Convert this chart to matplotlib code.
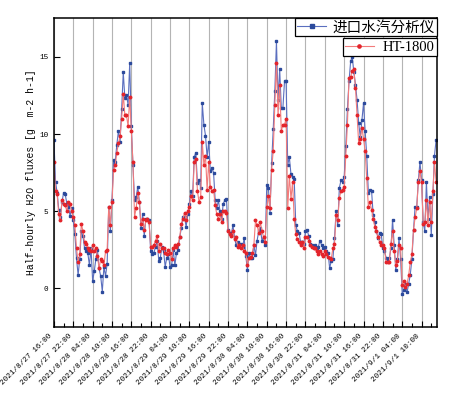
import pandas as pd
import matplotlib
matplotlib.use("Agg")
from matplotlib import pyplot as plt
import matplotlib.dates as mdates
import matplotlib.transforms as mtransforms

# Half-hourly H2O fluxes, 2021/8/27 16:00 onwards (g m-2 h-1)
inlet_analyzer = [
    9.6, 6.9, 6.2, 5.1, 4.6, 5.6, 6.2, 6.1, 5.5, 5.3, 4.7, 5.2,
    4.4, 3.5, 1.95, 0.87, 1.9, 3.7, 3.4, 2.6, 2.4, 2.3, 1.5, 2.6,
    0.5, 1.1, 1.9, 2.5, 1.3, 0.8, -0.2, 1.4, 0.8, 1.6, 5.3, 3.7,
    5.7, 8.3, 8.2, 9.3, 10.2, 9.5, 11.6, 14.0, 12.3, 12.5, 11.9, 14.6,
    10.5, 8.0, 5.7, 5.9, 6.6, 5.6, 3.9, 4.8, 3.4, 4.5, 4.5, 4.4,
    2.4, 2.2, 2.3, 2.7, 3.1, 1.8, 2.0, 2.7, 2.4, 1.4, 2.0, 2.2,
    1.4, 1.5, 2.5, 1.5, 2.3, 2.5, 3.3, 3.9, 4.6, 4.6, 4.0, 4.8,
    5.5, 6.3, 6.0, 8.5, 8.8, 6.8, 7.0, 6.5, 12.0, 10.6, 9.9, 8.5,
    9.5, 7.6, 7.8, 7.5, 5.7, 5.2, 5.7, 5.0, 4.5, 5.5, 5.7, 5.8,
    3.8, 3.6, 3.5, 4.1, 3.3, 2.8, 3.0, 2.85, 2.9, 2.7, 3.25, 2.1,
    1.2, 2.3, 1.95, 2.0, 2.8, 2.15, 3.1, 3.7, 3.9, 3.1, 3.3, 2.8,
    6.7, 6.5, 4.9, 8.1, 10.3, 12.8, 16.0, 12.2, 14.2, 11.7, 11.7, 13.4,
    13.4, 8.0, 8.5, 7.4, 7.2, 7.1, 4.1, 3.7, 3.6, 3.0, 3.0, 2.9,
    3.7, 3.8, 3.4, 2.9, 2.8, 2.7, 2.8, 2.6, 2.7, 3.1, 2.8, 2.6,
    2.7, 2.4, 2.3, 1.3, 1.8, 1.9, 3.25, 5.0, 4.1, 6.5, 7.0, 6.9,
    7.2, 9.2, 11.6, 13.4, 14.7, 15.0, 14.0, 13.2, 12.2, 10.7, 9.8, 10.9,
    12.0, 10.2, 8.6, 6.2, 6.4, 6.3, 4.75, 4.3, 3.7, 3.25, 3.6, 3.5,
    2.6, 2.4, 2.0, 1.9, 1.95, 2.6, 4.45, 2.8, 1.2, 1.9, 3.25, 1.9,
    -0.35, -0.1, 0.3, -0.25, 0.3, 0.9, 1.9, 3.8, 5.3, 5.3, 7.0, 8.2,
    7.0, 4.3, 3.7, 6.9, 4.5, 5.9, 3.45, 6.1, 8.6, 9.6,
]
ht1800 = [
    8.2, 6.3, 6.1, 4.8, 4.4, 5.7, 5.5, 5.4, 5.0, 5.6, 5.5, 5.0,
    4.6, 4.1, 2.6, 1.7, 2.2, 4.2, 3.7, 3.0, 2.9, 2.6, 2.5, 2.4,
    2.8, 2.4, 2.6, 2.1, 1.3, 1.9, 1.8, 1.5, 2.4, 2.5, 5.3, 4.1,
    5.6, 7.7, 8.0, 8.8, 9.4, 9.85, 11.0, 12.6, 11.2, 11.2, 10.5, 12.4,
    10.2, 8.2, 4.65, 5.2, 6.2, 5.6, 4.2, 4.5, 3.8, 4.4, 4.5, 4.3,
    2.7, 2.7, 2.8, 3.1, 3.4, 2.4, 2.9, 2.6, 2.6, 2.3, 2.2, 2.5,
    2.3, 1.9, 2.6, 2.8, 2.7, 2.9, 3.3, 4.2, 4.5, 4.9, 4.4, 5.0,
    5.3, 6.0, 5.7, 8.2, 8.4, 6.3, 5.6, 5.9, 9.5, 8.0, 8.6, 6.4,
    8.2, 6.6, 6.3, 6.4, 5.4, 4.8, 4.5, 4.8, 4.3, 5.0, 5.0, 4.9,
    3.7, 3.5, 3.4, 3.7, 3.2, 3.35, 2.7, 2.8, 2.6, 2.8, 2.4, 2.3,
    1.5, 2.0, 2.05, 2.3, 2.8, 4.4, 4.1, 3.6, 4.3, 3.7, 3.35, 3.0,
    5.3, 6.0, 5.2, 7.7, 8.9, 11.9, 14.6, 11.2, 13.2, 10.2, 10.6, 10.6,
    11.0, 5.2, 7.3, 5.8, 6.9, 4.5, 3.5, 3.2, 3.0, 2.8, 3.0, 2.6,
    3.3, 3.35, 3.1, 2.8, 2.7, 2.6, 2.6, 2.4, 2.2, 2.4, 2.2, 2.1,
    2.4, 2.2, 2.05, 1.95, 1.9, 2.6, 2.9, 4.75, 4.4, 5.85, 6.3, 6.4,
    6.6, 8.6, 10.6, 13.6, 13.7, 14.1, 14.2, 13.0, 11.2, 9.4, 9.7, 10.4,
    9.7, 8.9, 7.15, 5.3, 5.6, 5.1, 4.5, 4.0, 3.7, 3.3, 3.0, 2.8,
    2.8, 2.6, 1.7, 1.7, 1.7, 2.9, 3.7, 2.4, 1.5, 1.8, 2.8, 2.6,
    0.2, 0.5, 0.1, 0.3, 0.85, 1.7, 2.2, 3.8, 4.6, 5.2, 6.9, 7.6,
    6.9, 4.2, 4.3, 5.7, 4.1, 5.6, 4.3, 6.3, 8.2, 6.9,
]
times = pd.date_range("2021-08-27 16:00", periods=len(inlet_analyzer), freq="30min")

tick_times = pd.date_range("2021-08-27 16:00", "2021-09-01 10:00", freq="6h")
tick_labels = [f"{t.year}/{t.month}/{t.day} {t:%H:%M}" for t in tick_times]

series_names = ["进口水汽分析仪", "HT-1800"]

fig = plt.figure(figsize=(4.57, 3.95), dpi=100)
ax = fig.add_axes([0.118, 0.172, 0.838, 0.782])

l1, = ax.plot(times, inlet_analyzer, color="#5b6fbf", lw=0.8, marker="s", ms=2.1,
              mfc="#2c4a9c", mec="#2c4a9c", label=series_names[0])
l2, = ax.plot(times, ht1800, color="#f27b7b", lw=0.8, marker="o", ms=1.8,
              mfc="#e3242b", mec="#e3242b", label=series_names[1])

ax.set_xlim(pd.Timestamp("2021-08-27 16:00"), pd.Timestamp("2021-09-01 14:45"))
ax.set_ylim(-2.5, 17.5)
ax.set_yticks([0, 5, 10, 15])

ax.set_xticks(tick_times)
ax.set_xticklabels(tick_labels, rotation=45, ha="right", family="Liberation Mono", fontsize=5.5)
ax.xaxis.set_minor_locator(mdates.HourLocator(byhour=[1, 7, 13, 19]))
offset = mtransforms.ScaledTranslation(0.05, 0, fig.dpi_scale_trans)
for lab in ax.get_xticklabels():
    lab.set_transform(lab.get_transform() + offset)

for lab in ax.get_yticklabels():
    lab.set_family("Liberation Mono")
    lab.set_fontsize(5.5)

ax.tick_params(axis="both", which="major", direction="in", length=4, width=0.8, pad=4)
ax.tick_params(axis="x", which="minor", direction="in", length=3, width=0.8)
ax.tick_params(axis="y", which="minor", left=False)
ax.grid(True, axis="x", which="major", color="#b4b4b4", lw=0.8)
for sp in ax.spines.values():
    sp.set_linewidth(1.1)

ax.set_ylabel("Half-hourly H2O fluxes [g  m-2 h-1]", family="Liberation Mono", fontsize=7, labelpad=2)

leg_font = {"family": ["Liberation Serif", "Noto Sans CJK SC"], "size": 10.5}
leg1 = ax.legend(handles=[l1], loc="upper right", bbox_to_anchor=(1, 1), borderaxespad=0,
                 prop=leg_font, fancybox=False, edgecolor="black", framealpha=1,
                 numpoints=1, handlelength=2.0, handletextpad=0.4, borderpad=0.15,
                 markerscale=1.3)
leg1.get_frame().set_linewidth(0.9)
ax.add_artist(leg1)
leg2 = ax.legend(handles=[l2], loc="upper right", bbox_to_anchor=(1, 0.935), borderaxespad=0,
                 prop=leg_font, fancybox=False, edgecolor="black", framealpha=1,
                 numpoints=1, handlelength=2.0, handletextpad=0.6, borderpad=0.15,
                 markerscale=1.3)
leg2.get_frame().set_linewidth(0.9)

fig.savefig("out.png", dpi=100)
